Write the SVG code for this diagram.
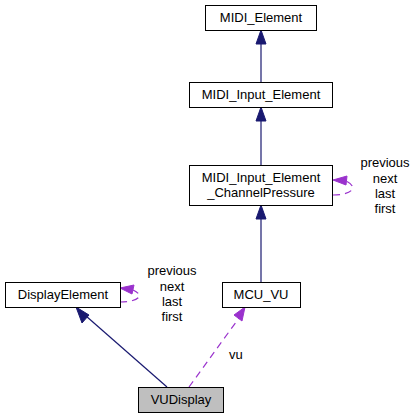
<svg xmlns="http://www.w3.org/2000/svg" width="415" height="419" viewBox="0 0 415 419">
<style>
.box{fill:#fff;stroke:#000;stroke-width:1}
.sel{fill:#bfbfbf;stroke:#000;stroke-width:1}
text{font-family:"Liberation Sans",Arial,sans-serif;font-size:13px;fill:#000}
.t{text-anchor:middle}
.inh{stroke:#191970;stroke-width:1.2;fill:none}
.use{stroke:#9a32cd;stroke-width:1.2;fill:none;stroke-dasharray:7,5}
.ah{fill:#191970;stroke:#191970}
.ap{fill:#9a32cd;stroke:#9a32cd}
</style>
<rect width="415" height="419" fill="#fff"/>
<g id="edges">
  <path class="inh" d="M261,82 V42"/>
  <polygon class="ah" points="256,44 261,30 266,44"/>
  <path class="inh" d="M261,165 V119"/>
  <polygon class="ah" points="256,121 261,107 266,121"/>
  <path class="inh" d="M261,282 V217"/>
  <polygon class="ah" points="256,219 261,205 266,219"/>
  <path class="inh" d="M167,387 L86,316"/>
  <polygon class="ah" points="82,323 76,307 89,315"/>
  <path class="use" d="M189,387 L239,318"/>
  <polygon class="ap" points="234,315 245,307 242,321"/>
  <path class="use" d="M333,195 C350,195 360,188 346,181"/>
  <polygon class="ap" points="347,176 333,180 346,185"/>
  <path class="use" d="M120,302 C137,302 146,296 133,290"/>
  <polygon class="ap" points="134,285 120,288 132,294"/>
  <text x="229" y="359">vu</text>
  <text class="t" x="385" y="167">previous</text>
  <text class="t" x="385" y="183">next</text>
  <text class="t" x="385" y="198">last</text>
  <text class="t" x="385" y="213">first</text>
  <text class="t" x="172" y="275">previous</text>
  <text class="t" x="172" y="291">next</text>
  <text class="t" x="172" y="306">last</text>
  <text class="t" x="172" y="321">first</text>
</g>
<g id="MIDI_Element">
  <rect class="box" x="205.5" y="5.5" width="111" height="25"/>
  <text class="t" x="261" y="22">MIDI_Element</text>
</g>
<g id="MIDI_Input_Element">
  <rect class="box" x="189.5" y="82.5" width="143" height="25"/>
  <text class="t" x="261" y="99">MIDI_Input_Element</text>
</g>
<g id="MIDI_Input_Element_ChannelPressure">
  <rect class="box" x="189.5" y="165.5" width="143" height="40"/>
  <text class="t" x="261" y="182">MIDI_Input_Element</text>
  <text class="t" x="261" y="197">_ChannelPressure</text>
</g>
<g id="DisplayElement">
  <rect class="box" x="5.5" y="282.5" width="115" height="25"/>
  <text class="t" x="63" y="299">DisplayElement</text>
</g>
<g id="MCU_VU">
  <rect class="box" x="222.5" y="282.5" width="78" height="25"/>
  <text class="t" x="261" y="299">MCU_VU</text>
</g>
<g id="VUDisplay">
  <rect class="sel" x="138.5" y="387.5" width="85" height="25"/>
  <text class="t" x="181" y="404">VUDisplay</text>
</g>
</svg>
